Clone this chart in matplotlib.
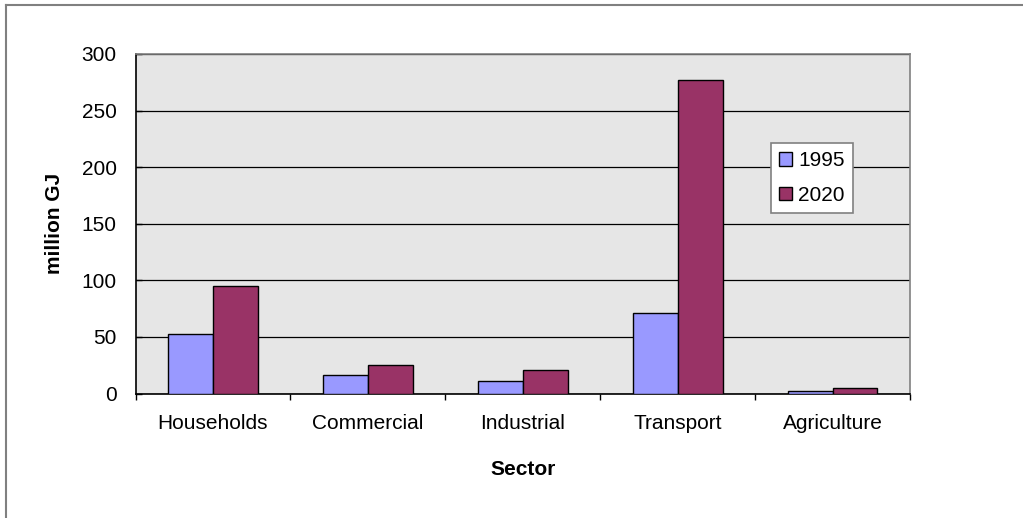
import matplotlib
matplotlib.use("Agg")
import matplotlib.pyplot as plt
import numpy as np
from matplotlib.lines import Line2D

plt.rcParams["font.family"] = ["Liberation Sans", "DejaVu Sans"]

sectors = ["Households", "Commercial", "Industrial", "Transport", "Agriculture"]
years = ["1995", "2020"]
values_1995 = [53, 16, 11, 71, 2]
values_2020 = [95, 25, 21, 277, 5]

C1995 = "#9999FF"
C2020 = "#993366"

fig = plt.figure(figsize=(10.23, 5.18), dpi=100)
ax = fig.add_axes([0.1325, 0.2403, 0.757, 0.6555])
ax.set_facecolor("#E6E6E6")

x = np.arange(len(sectors)) + 0.5
w = 0.29
ax.bar(x - w / 2, values_1995, w, color=C1995, edgecolor="black", linewidth=1, label=years[0], zorder=3)
ax.bar(x + w / 2, values_2020, w, color=C2020, edgecolor="black", linewidth=1, label=years[1], zorder=3)

ax.set_xlim(0, len(sectors))
ax.set_ylim(0, 300)
ax.set_yticks(range(0, 301, 50))
ax.set_xticks(range(len(sectors) + 1))
ax.set_xticklabels([])
ax.set_xticks(x, minor=True)
ax.set_xticklabels(sectors, minor=True)
ax.tick_params(axis="x", which="minor", length=0, labelsize=15, pad=15)
ax.tick_params(axis="x", which="major", direction="out", length=4.3, width=1, color="black")
ax.tick_params(axis="y", direction="in", length=4.3, width=1, labelsize=15, pad=13.5)

ax.yaxis.grid(True, color="black", linewidth=0.9, zorder=1)
ax.set_axisbelow(True)
for s in ["top", "right"]:
    ax.spines[s].set_color("#808080")
    ax.spines[s].set_linewidth(1.2)
for s in ["left", "bottom"]:
    ax.spines[s].set_color("black")
    ax.spines[s].set_linewidth(1.2)

ax.set_ylabel("million GJ", fontsize=15, fontweight="bold", labelpad=13)
ax.set_xlabel("Sector", fontsize=15, fontweight="bold", labelpad=19)

leg = ax.legend(loc="upper left", bbox_to_anchor=(771 / 1023, 1 - 143 / 518),
                bbox_transform=fig.transFigure, fontsize=15, frameon=True,
                fancybox=False, framealpha=1, edgecolor="#808080",
                handlelength=0.6, handleheight=0.6, handletextpad=0.3,
                labelspacing=0.75, borderpad=0.4, borderaxespad=0)
leg.get_frame().set_linewidth(1.2)

# outer chart border (left and top edges only visible)
fig.add_artist(Line2D([6 / 1023, 6 / 1023], [0, 1 - 5 / 518], transform=fig.transFigure,
                      color="#808080", linewidth=1.5))
fig.add_artist(Line2D([6 / 1023, 1], [1 - 5 / 518, 1 - 5 / 518], transform=fig.transFigure,
                      color="#808080", linewidth=1.5))

fig.savefig("out.png", dpi=100)
plt.close(fig)
